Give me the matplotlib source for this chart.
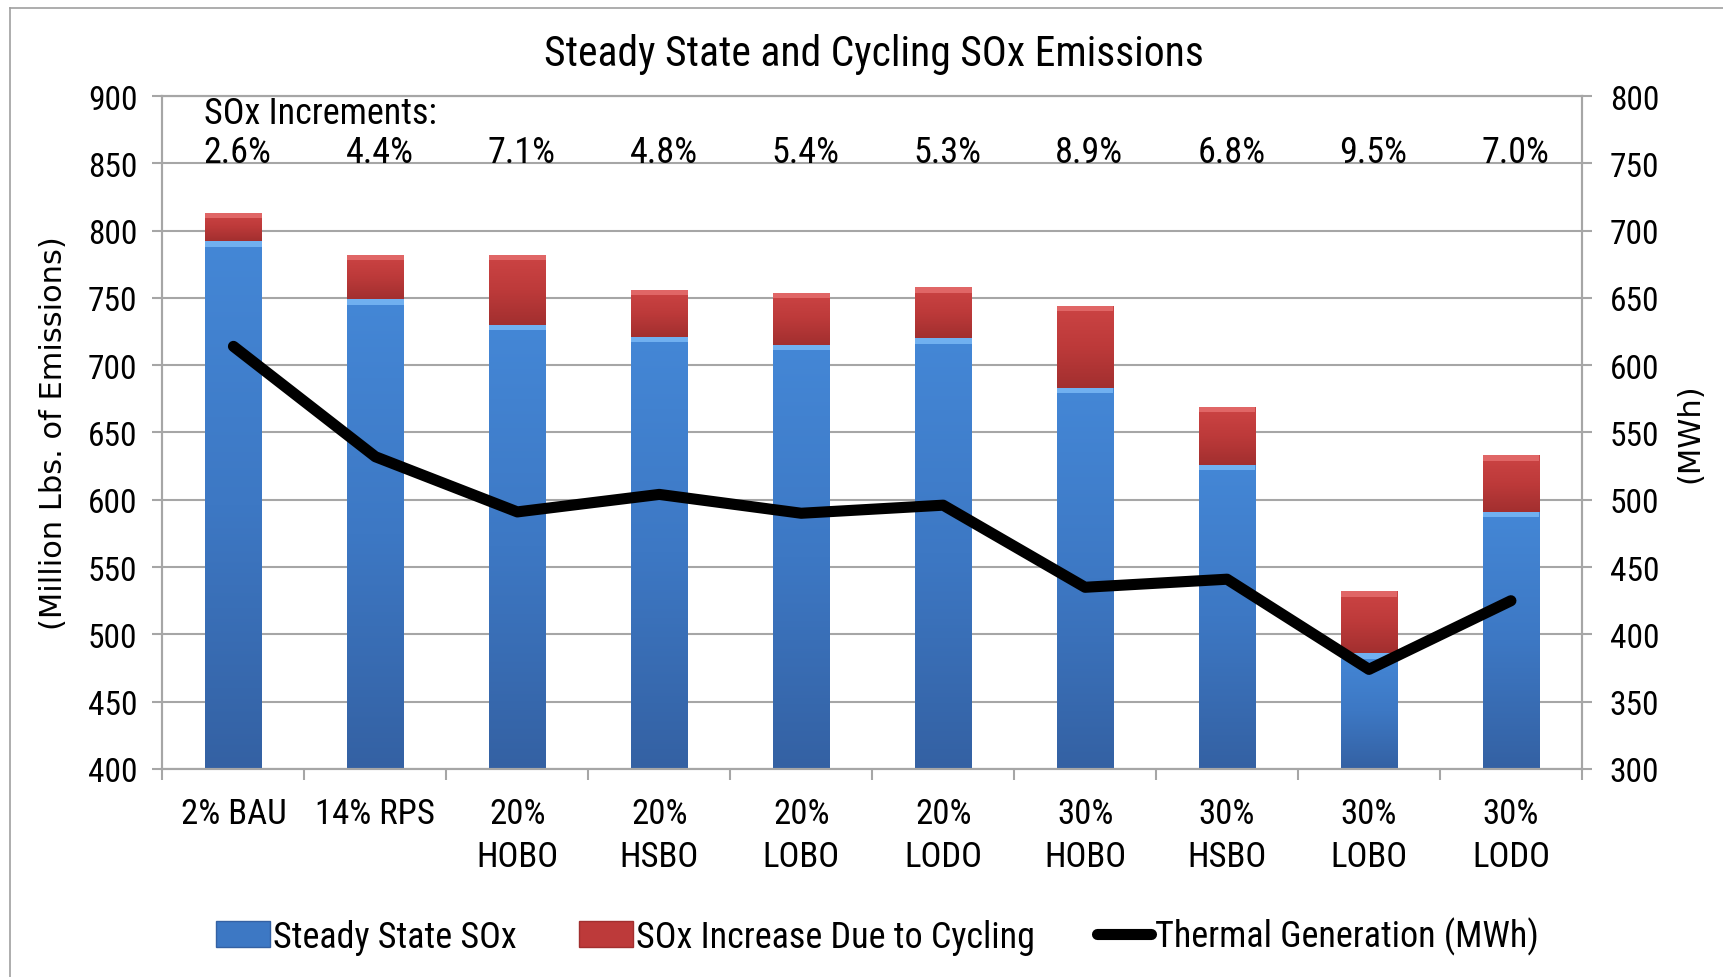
import numpy as np
import matplotlib
matplotlib.use('Agg')
import matplotlib.pyplot as plt
from matplotlib.lines import Line2D
from matplotlib.patches import Patch
from matplotlib.colors import LinearSegmentedColormap

categories = ['2% BAU', '14% RPS', '20%\nHOBO', '20%\nHSBO', '20%\nLOBO',
              '20%\nLODO', '30%\nHOBO', '30%\nHSBO', '30%\nLOBO', '30%\nLODO']
steady_sox = [792, 749, 730, 721, 715, 720, 683, 626, 486, 591]
cycling_sox = [21, 33, 52, 35, 39, 38, 61, 43, 46, 42]
thermal_gen = [614, 532, 491, 504, 490, 496, 435, 441, 374, 425]
increments = ['2.6%', '4.4%', '7.1%', '4.8%', '5.4%', '5.3%', '8.9%', '6.8%', '9.5%', '7.0%']

plt.rcParams['font.family'] = ['Roboto Condensed', 'Noto Sans', 'DejaVu Sans']
plt.rcParams['font.stretch'] = 'condensed'
grid_col = '#a6a6a6'

fig = plt.figure(figsize=(17.23, 9.78), dpi=100)
ax = fig.add_axes([0.0943, 0.2127, 0.8238, 0.6881])
x = np.arange(len(categories))

blue_map = LinearSegmentedColormap.from_list('b', ['#3461a3', '#3d78c4', '#4487d6'])
red_map = LinearSegmentedColormap.from_list('r', ['#a22f2f', '#bd3a3a', '#cc4444'])


def shade(bars, cmap, cap):
    # vertical gradient clipped into each bar, lighter strip at the top
    grad = np.linspace(0, 1, 256).reshape(-1, 1)
    for b in bars:
        x0, y0 = b.get_x(), b.get_y()
        w, h = b.get_width(), b.get_height()
        im = ax.imshow(grad, cmap=cmap, origin='lower', aspect='auto',
                       extent=[x0, x0 + w, max(y0, 400), y0 + h], zorder=2)
        im.set_clip_path(b)
        ax.add_patch(plt.Rectangle((x0, y0 + h - 4), w, 4, color=cap, zorder=3, lw=0))


bars1 = ax.bar(x, steady_sox, 0.4, color='#3d78c4', zorder=2)
bars2 = ax.bar(x, cycling_sox, 0.4, bottom=steady_sox, color='#bd3a3a', zorder=2)
shade(bars1, blue_map, '#70b0f0')
shade(bars2, red_map, '#e06666')

ax.set_xlim(-0.5, len(categories) - 0.5)
ax.set_ylim(400, 900)
ax.set_yticks(np.arange(400, 901, 50))
ax.set_xticks(x, categories)
ax.set_xticks(np.arange(-0.5, len(categories), 1), minor=True)
ax.tick_params(axis='x', which='major', length=0, pad=20, labelsize=25)
for t in ax.get_xticklabels():
    t.set_linespacing(1.4)
ax.tick_params(axis='x', which='minor', length=8, color=grid_col, width=1.5)
ax.tick_params(axis='y', length=7, color=grid_col, width=1.5, pad=11, labelsize=24)
ax.grid(axis='y', color=grid_col, lw=1.5, zorder=0)
for s in ax.spines.values():
    s.set_color(grid_col)
    s.set_linewidth(1.5)

ax2 = ax.twinx()
ax2.set_ylim(300, 800)
ax2.set_yticks(np.arange(300, 801, 50))
ax2.tick_params(axis='y', length=7, color=grid_col, width=1.5, pad=13, labelsize=24)
for s in ax2.spines.values():
    s.set_color(grid_col)
    s.set_linewidth(1.5)
ax2.plot(x, thermal_gen, color='black', lw=8, solid_capstyle='round',
         solid_joinstyle='round', zorder=5)

for xi, txt in zip(x, increments):
    ax.text(xi + 0.03, 851, txt, ha='center', va='baseline', fontsize=26)
ax.text(-0.21, 880, 'SOx Increments:', ha='left', va='baseline', fontsize=26)

fig.text(0.507, 0.944, 'Steady State and Cycling SOx Emissions', ha='center',
         va='center', fontsize=30)
fig.text(0.031, 0.557, '(Million Lbs. of Emissions)', rotation=90, ha='center',
         va='center', fontsize=22, family='DejaVu Sans', stretch='normal')
fig.text(0.981, 0.557, '(MWh)', rotation=90, ha='center', va='center',
         fontsize=22, family='DejaVu Sans', stretch='normal')

handles = [Patch(facecolor='#3d78c4', edgecolor='#3461a3'),
           Patch(facecolor='#bd3a3a', edgecolor='#a22f2f'),
           Line2D([0], [0], color='black', lw=8, solid_capstyle='round')]
labels = ['Steady State SOx', 'SOx Increase Due to Cycling', 'Thermal Generation (MWh)']
fig.legend(handles, labels, loc='center', bbox_to_anchor=(0.509, 0.042), ncol=3,
           frameon=False, fontsize=26, handlelength=1.5, handletextpad=0.1,
           columnspacing=1.7)

# thin frame round the chart
fig.add_artist(Line2D([0.006, 0.006], [0, 0.991], color='#a0a0a0', lw=1.2))
fig.add_artist(Line2D([0.006, 1], [0.991, 0.991], color='#a0a0a0', lw=1.2))

fig.savefig('out.png', dpi=100)
